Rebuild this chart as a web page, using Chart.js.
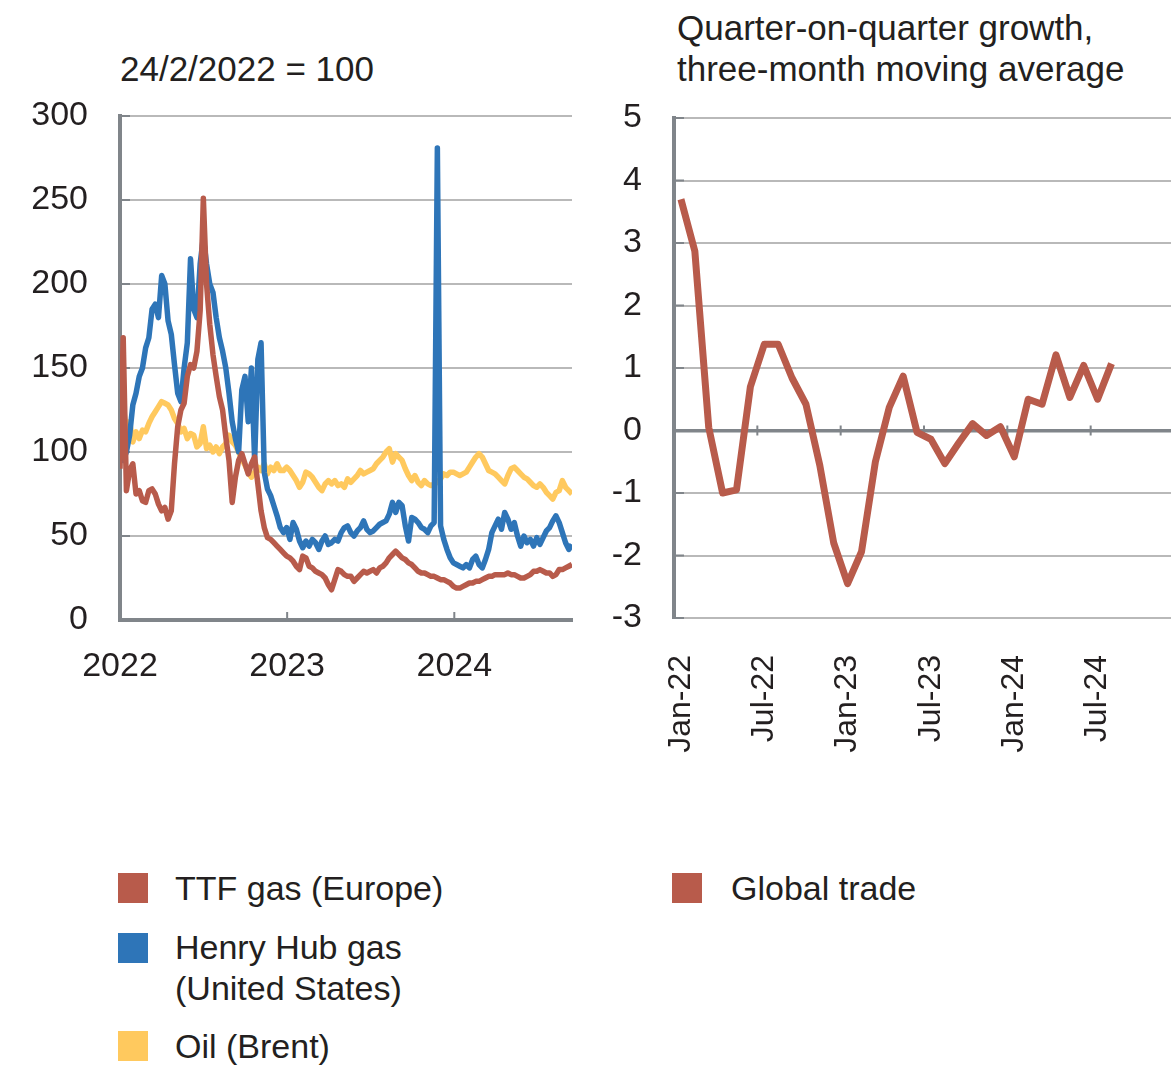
<!DOCTYPE html>
<html>
<head>
<meta charset="utf-8">
<script src="https://cdn.jsdelivr.net/npm/chart.js@4.4.1/dist/chart.umd.min.js"></script>
<style>
  html, body { margin: 0; padding: 0; background: #fff; overflow: hidden; }
  body { width: 1171px; height: 1066px; position: relative; font-family: "Liberation Sans", Arial, sans-serif; color: #231f20; font-size: 34px; }
  #left { position: absolute; left: 0; top: 0; width: 600px; height: 720px; }
  #right { position: absolute; left: 560px; top: 0; width: 620px; height: 800px; }
  .note { position: absolute; line-height: 41px; white-space: nowrap; }
  .title { font-size: 35px; }
  .sw { position: absolute; width: 30px; height: 30px; }
</style>
</head>
<body>
<div class="note title" style="left:120px;top:48px">24/2/2022 = 100</div>
<div class="note title" style="left:677px;top:7px">Quarter-on-quarter growth,<br>three-month moving average</div>

<div id="left"><canvas id="leftChart"></canvas></div>
<div id="right"><canvas id="rightChart"></canvas></div>

<div class="sw" style="left:118px;top:873px;background:#b85b4b"></div>
<div class="note" style="left:175px;top:868px">TTF gas (Europe)</div>
<div class="sw" style="left:118px;top:933px;background:#2e75b8"></div>
<div class="note" style="left:175px;top:927px">Henry Hub gas<br>(United States)</div>
<div class="sw" style="left:118px;top:1031px;background:#ffc95e"></div>
<div class="note" style="left:175px;top:1026px">Oil (Brent)</div>
<div class="sw" style="left:672px;top:873px;background:#b85b4b"></div>
<div class="note" style="left:731px;top:868px">Global trade</div>

<script>
// left panel: weekly readings, index 24/2/2022 = 100
const startDate = '2022-02-24';
const yearLabels = ['2022', '2023', '2024'];
const yearTickDates = ['2022-02-24', '2023-02-24', '2024-02-24'];

const ttfGas = [
  90, 168, 77, 89, 93, 75, 77, 71, 70, 77, 78, 75, 69, 65, 67, 60, 65, 93, 115, 125,
  129, 145, 152, 150, 160, 184, 251, 200, 176, 158, 145, 133, 125, 109, 95, 70,
  85, 95, 99, 93, 87, 93, 97, 81, 65, 55, 49, 48, 46, 44, 42, 40, 38, 37, 35, 32,
  30, 38, 37, 32, 31, 29, 28, 27, 25, 21, 18, 24, 30, 29, 27, 26,
  26, 23, 25, 27, 29, 28, 29, 30, 28, 31, 32, 34, 37, 39, 41, 39, 37, 36, 34, 33,
  31, 29, 28, 28, 27, 26, 26, 25, 24, 24, 23, 22, 20, 19, 19, 20,
  21, 22, 22, 23, 23, 24, 25, 26, 26, 27, 27, 27, 27, 28, 27, 27, 26, 25, 25, 26,
  27, 29, 29, 30, 29, 28, 28, 26, 27, 30, 30, 31, 32, 33
];
const henryHub = [
  97, 95, 100, 110, 128, 135, 145, 150, 162, 168, 185, 188, 180, 205, 200, 178, 170, 152, 135, 130,
  150, 165, 215, 185, 180, 212, 228, 212, 200, 195, 180, 168, 160, 150, 135, 118,
  108, 100, 137, 145, 118, 150, 95, 155, 165, 88, 78, 74, 68, 62, 55, 52, 55, 48, 58, 54,
  47, 43, 47, 44, 48, 46, 42, 47, 50, 45, 46, 48, 47, 52, 55, 56,
  52, 50, 53, 55, 59, 54, 52, 53, 55, 57, 58, 59, 63, 70, 64, 70, 68, 56, 47, 61,
  60, 58, 55, 54, 52, 56, 58, 281, 56, 48, 42, 37, 34, 33, 32, 31,
  33, 31, 36, 38, 33, 31, 36, 42, 52, 56, 60, 54, 64, 60, 54, 58, 50, 44, 50, 46,
  48, 44, 49, 45, 49, 53, 55, 59, 62, 58, 52, 46, 42, 45
];
const brentOil = [
  101, 128, 112, 118, 106, 112, 108, 113, 112, 117, 121, 124, 127, 130, 129, 128, 125, 120, 117, 112,
  114, 108, 111, 110, 103, 105, 115, 102, 104, 100, 103, 99, 103, 105, 110, 106,
  104, 100, 96, 92, 88, 85, 88, 91, 89, 93, 87, 91, 89, 93, 89, 89, 91, 89, 86, 83,
  79, 82, 88, 87, 85, 82, 79, 77, 81, 83, 81, 83, 80, 81, 79, 84,
  82, 84, 86, 89, 87, 88, 89, 90, 93, 95, 97, 100, 102, 94, 99, 97, 95, 90, 86, 83,
  86, 82, 80, 83, 81, 80, 81, 82, 84, 87, 86, 88, 88, 87, 86, 87,
  88, 91, 94, 97, 99, 97, 93, 89, 88, 87, 85, 83, 81, 86, 90, 91, 89, 87, 85, 84,
  82, 80, 79, 81, 79, 76, 74, 72, 76, 77, 83, 79, 77, 75
];

// right panel: monthly
const months = [
  'Jan-22', 'Feb-22', 'Mar-22', 'Apr-22', 'May-22', 'Jun-22', 'Jul-22', 'Aug-22', 'Sep-22', 'Oct-22', 'Nov-22', 'Dec-22',
  'Jan-23', 'Feb-23', 'Mar-23', 'Apr-23', 'May-23', 'Jun-23', 'Jul-23', 'Aug-23', 'Sep-23', 'Oct-23', 'Nov-23', 'Dec-23',
  'Jan-24', 'Feb-24', 'Mar-24', 'Apr-24', 'May-24', 'Jun-24', 'Jul-24', 'Aug-24', 'Sep-24', 'Oct-24', 'Nov-24', 'Dec-24'
];
const globalTrade = [
  3.7, 2.87, 0.05, -1.0, -0.95, 0.7, 1.38, 1.38, 0.84, 0.42, -0.56, -1.8,
  -2.45, -1.94, -0.5, 0.37, 0.87, -0.03, -0.14, -0.53, -0.2, 0.11, -0.08, 0.06,
  -0.42, 0.5, 0.42, 1.21, 0.53, 1.04, 0.5, 1.07
];

const RED = '#b85b4b', BLUE = '#2e75b8', YELLOW = '#ffc95e';
const GRID = '#b9b9b9', AXIS = '#80858a', TEXT = '#231f20';

Chart.defaults.font.family = '"Liberation Sans", Arial, sans-serif';
Chart.defaults.font.size = 34;
Chart.defaults.color = TEXT;

function dayOffset(d) {
    return Math.round((Date.parse(d) - Date.parse(startDate)) / 86400000);
}
function weekly(values) {
    return values.map((v, i) => ({ x: i * 7, y: v }));
}

// short dark tick marks: inward on the y axis, and on the x base line
const tickMarks = {
    id: 'tickMarks',
    beforeDatasetsDraw(chart, args, opts) {
        const { ctx, chartArea: a, scales: { x, y } } = chart;
        ctx.save();
        ctx.strokeStyle = AXIS;
        ctx.lineWidth = 2;
        ctx.beginPath();
        y.ticks.forEach(t => {
            const py = y.getPixelForValue(t.value);
            ctx.moveTo(a.left, py);
            ctx.lineTo(a.left + 10, py);
        });
        const base = y.getPixelForValue(opts.baseValue);
        opts.xValues.forEach(v => {
            const px = x.getPixelForValue(v);
            ctx.moveTo(px, base - opts.up);
            ctx.lineTo(px, base + opts.down);
        });
        ctx.stroke();
        ctx.restore();
    }
};
Chart.register(tickMarks);

new Chart(document.getElementById('leftChart'), {
    type: 'line',
    data: {
        datasets: [
            { label: 'TTF gas (Europe)', data: weekly(ttfGas), borderColor: RED },
            { label: 'Henry Hub gas (United States)', data: weekly(henryHub), borderColor: BLUE },
            { label: 'Oil (Brent)', data: weekly(brentOil), borderColor: YELLOW }
        ]
    },
    options: {
        responsive: true,
        maintainAspectRatio: false,
        animation: false,
        layout: { padding: { top: 116, right: 28, left: 0, bottom: 0 } },
        elements: {
            point: { radius: 0 },
            line: { tension: 0, borderWidth: 5.5, borderJoinStyle: 'round' }
        },
        plugins: {
            legend: { display: false },
            tooltip: { enabled: false },
            tickMarks: {
                baseValue: 0, up: 8, down: 0,
                xValues: yearTickDates.slice(1).map(dayOffset)
            }
        },
        scales: {
            x: {
                type: 'linear',
                min: 0,
                max: (brentOil.length - 1) * 7,
                afterBuildTicks: s => { s.ticks = yearTickDates.map(d => ({ value: dayOffset(d) })); },
                afterFit: s => { s.height = 100; },
                ticks: { autoSkip: false, maxRotation: 0, padding: 26, callback: (v, i) => yearLabels[i] },
                grid: { display: true, drawOnChartArea: false, drawTicks: false },
                border: { color: AXIS, width: 4 }
            },
            y: {
                min: 0,
                max: 300,
                afterFit: s => { s.width = 120; },
                ticks: { stepSize: 50, padding: 32 },
                grid: { color: GRID, lineWidth: 2, drawTicks: false },
                border: { color: AXIS, width: 4 }
            }
        }
    }
});

new Chart(document.getElementById('rightChart'), {
    type: 'line',
    data: {
        labels: months,
        datasets: [
            { label: 'Global trade', data: globalTrade, borderColor: RED, borderWidth: 7 }
        ]
    },
    options: {
        responsive: true,
        maintainAspectRatio: false,
        animation: false,
        layout: { padding: { top: 118, right: 6, left: 0, bottom: 0 } },
        elements: {
            point: { radius: 0 },
            line: { tension: 0, borderJoinStyle: 'round' }
        },
        plugins: {
            legend: { display: false },
            tooltip: { enabled: false },
            tickMarks: {
                baseValue: 0, up: 5, down: 5,
                xValues: months.map((m, i) => i).filter(i => i > 0 && i % 6 === 0).map(i => i - 0.5)
            }
        },
        scales: {
            x: {
                type: 'category',
                offset: true,
                afterFit: s => { s.height = 182; s.paddingLeft = 0; s.paddingRight = 0; },
                ticks: {
                    autoSkip: false, minRotation: 90, maxRotation: 90, padding: 37,
                    font: { size: 32 },
                    callback: (v, i) => (i % 6 === 0 ? months[i] : '')
                },
                grid: { display: true, drawOnChartArea: false, drawTicks: false },
                border: { display: false }
            },
            y: {
                min: -3,
                max: 5,
                afterFit: s => { s.width = 114; },
                ticks: { stepSize: 1, padding: 32 },
                grid: {
                    color: c => (c.tick.value === 0 ? AXIS : GRID),
                    lineWidth: c => (c.tick.value === 0 ? 3.5 : 2),
                    drawTicks: false
                },
                border: { color: AXIS, width: 4 }
            }
        }
    }
});
</script>
</body>
</html>
